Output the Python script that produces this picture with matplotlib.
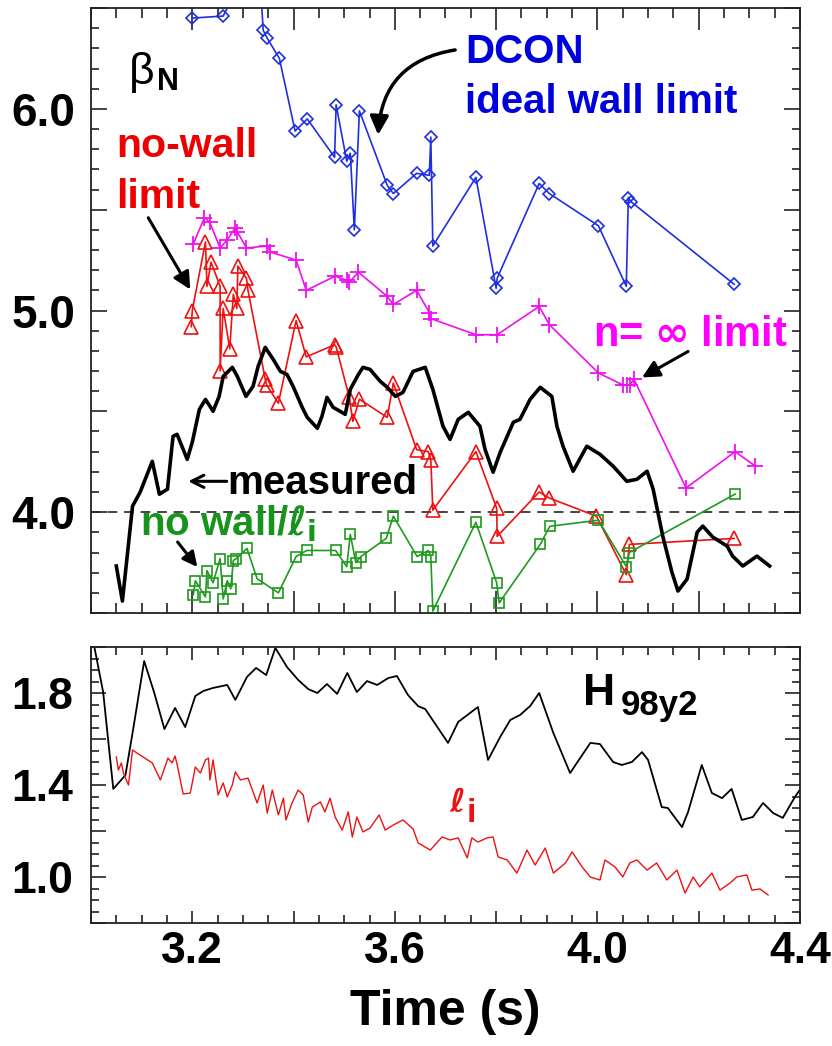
# Beta_N vs. time with stability limits, plus H98y2 and li (lower panel)

import numpy as np
import matplotlib
matplotlib.use('Agg')
import matplotlib.pyplot as plt
from matplotlib.ticker import MultipleLocator


plt.rcParams['font.family'] = ['Liberation Sans', 'DejaVu Sans']
plt.rcParams['font.weight'] = 'bold'
plt.rcParams['mathtext.fontset'] = 'dejavusans'


# Datos: beta_N medido

meas_t = [3.050, 3.062, 3.082, 3.097, 3.121, 3.135, 3.151, 3.162, 3.170, 3.190,
          3.200, 3.214, 3.226, 3.235, 3.241, 3.253, 3.261, 3.279, 3.289, 3.306,
          3.320, 3.330, 3.344, 3.360, 3.374, 3.387, 3.399, 3.417, 3.427, 3.447,
          3.456, 3.466, 3.478, 3.492, 3.502, 3.512, 3.528, 3.537, 3.551, 3.571,
          3.585, 3.601, 3.616, 3.636, 3.660, 3.675, 3.695, 3.709, 3.725, 3.745,
          3.768, 3.778, 3.794, 3.808, 3.834, 3.847, 3.867, 3.887, 3.910, 3.920,
          3.932, 3.952, 3.979, 4.005, 4.031, 4.058, 4.078, 4.098, 4.110, 4.129,
          4.147, 4.159, 4.177, 4.197, 4.208, 4.228, 4.256, 4.267, 4.287, 4.315,
          4.340]
meas_b = [3.733, 3.559, 4.030, 4.099, 4.252, 4.089, 4.114, 4.376, 4.386, 4.262,
          4.347, 4.510, 4.559, 4.525, 4.500, 4.574, 4.673, 4.718, 4.673, 4.574,
          4.624, 4.723, 4.817, 4.757, 4.698, 4.683, 4.624, 4.520, 4.470, 4.416,
          4.475, 4.569, 4.520, 4.500, 4.485, 4.609, 4.683, 4.718, 4.708, 4.649,
          4.619, 4.574, 4.594, 4.698, 4.718, 4.609, 4.426, 4.361, 4.460, 4.495,
          4.426, 4.312, 4.198, 4.297, 4.446, 4.460, 4.559, 4.619, 4.574, 4.426,
          4.327, 4.203, 4.327, 4.287, 4.228, 4.153, 4.163, 4.203, 4.114, 3.881,
          3.703, 3.609, 3.668, 3.901, 3.931, 3.876, 3.832, 3.782, 3.733, 3.782,
          3.733]

# DCON, pared ideal

dcon_t = [3.200, 3.261, 3.330, 3.340, 3.348, 3.372, 3.403, 3.427, 3.481, 3.484,
          3.505, 3.512, 3.520, 3.530, 3.585, 3.597, 3.643, 3.668, 3.671, 3.675,
          3.760, 3.800, 3.802, 3.885, 3.905, 4.002, 4.057, 4.061, 4.066, 4.270]
dcon_b = [6.45, 6.46, 6.80, 6.39, 6.35, 6.25, 5.89, 5.95, 5.76, 6.02,
          5.74, 5.78, 5.40, 5.99, 5.62, 5.58, 5.68, 5.67, 5.86, 5.32,
          5.66, 5.11, 5.16, 5.63, 5.58, 5.42, 5.12, 5.56, 5.54, 5.13]

# Limite n = infinito

ninf_t = [3.202, 3.224, 3.234, 3.255, 3.269, 3.285, 3.289, 3.307, 3.348, 3.354,
          3.405, 3.425, 3.482, 3.505, 3.510, 3.528, 3.585, 3.597, 3.643, 3.668,
          3.671, 3.760, 3.802, 3.885, 3.905, 4.002, 4.051, 4.058, 4.064, 4.072,
          4.175, 4.272, 4.311]
ninf_b = [5.33, 5.46, 5.44, 5.31, 5.35, 5.41, 5.39, 5.31, 5.32, 5.29,
          5.25, 5.10, 5.17, 5.15, 5.14, 5.19, 5.07, 5.03, 5.10, 4.99,
          4.96, 4.88, 4.88, 5.02, 4.93, 4.69, 4.63, 4.63, 4.63, 4.66,
          4.12, 4.30, 4.23]

# Limite sin pared

nowall_t = [3.198, 3.200, 3.226, 3.229, 3.237, 3.255, 3.255, 3.261, 3.274, 3.281,
            3.288, 3.290, 3.307, 3.310, 3.344, 3.347, 3.370, 3.405, 3.425, 3.481,
            3.484, 3.510, 3.517, 3.530, 3.585, 3.597, 3.643, 3.666, 3.671, 3.675,
            3.760, 3.801, 3.802, 3.885, 3.905, 3.998, 4.057, 4.063, 4.270]
nowall_b = [4.92, 5.00, 5.34, 5.12, 5.24, 5.12, 4.70, 5.01, 4.81, 5.08,
            5.01, 5.22, 5.16, 5.10, 4.66, 4.63, 4.54, 4.95, 4.77, 4.83,
            4.82, 4.57, 4.45, 4.56, 4.47, 4.64, 4.31, 4.30, 4.26, 4.01,
            4.30, 4.02, 3.88, 4.10, 4.07, 3.98, 3.69, 3.84, 3.87]

# Limite sin pared / li

nwli_t = [3.202, 3.206, 3.226, 3.229, 3.241, 3.255, 3.261, 3.269, 3.276, 3.281,
          3.287, 3.308, 3.328, 3.370, 3.405, 3.426, 3.483, 3.505, 3.512, 3.523,
          3.533, 3.583, 3.597, 3.644, 3.666, 3.671, 3.675, 3.760, 3.801, 3.806,
          3.887, 3.906, 4.002, 4.057, 4.063, 4.272]
nwli_b = [3.59, 3.66, 3.58, 3.71, 3.65, 3.77, 3.57, 3.66, 3.62, 3.76,
          3.77, 3.82, 3.67, 3.60, 3.78, 3.81, 3.81, 3.73, 3.89, 3.75,
          3.78, 3.87, 3.98, 3.78, 3.81, 3.78, 3.51, 3.95, 3.65, 3.55,
          3.84, 3.93, 3.96, 3.73, 3.80, 4.09]

# Panel inferior: H98y2

h98_t = [3.000, 3.007, 3.024, 3.044, 3.068, 3.083, 3.105, 3.125, 3.145, 3.166,
         3.186, 3.206, 3.222, 3.241, 3.269, 3.285, 3.308, 3.326, 3.346, 3.364,
         3.387, 3.409, 3.429, 3.447, 3.466, 3.486, 3.506, 3.525, 3.545, 3.565,
         3.587, 3.604, 3.626, 3.646, 3.660, 3.705, 3.725, 3.764, 3.784, 3.808,
         3.828, 3.847, 3.867, 3.885, 3.913, 3.946, 3.986, 4.005, 4.031, 4.048,
         4.068, 4.088, 4.100, 4.127, 4.139, 4.167, 4.179, 4.206, 4.226, 4.246,
         4.265, 4.285, 4.307, 4.327, 4.347, 4.366, 4.390, 4.400]
h98_v = [2.050, 1.996, 1.804, 1.383, 1.443, 1.639, 1.939, 1.800, 1.643, 1.735,
         1.652, 1.787, 1.809, 1.822, 1.835, 1.770, 1.870, 1.909, 1.878, 1.996,
         1.913, 1.857, 1.817, 1.800, 1.839, 1.796, 1.887, 1.804, 1.852, 1.835,
         1.865, 1.874, 1.791, 1.743, 1.730, 1.583, 1.674, 1.739, 1.509, 1.609,
         1.683, 1.704, 1.743, 1.800, 1.626, 1.452, 1.583, 1.578, 1.500, 1.487,
         1.500, 1.543, 1.509, 1.304, 1.300, 1.217, 1.283, 1.487, 1.365, 1.343,
         1.383, 1.248, 1.261, 1.322, 1.278, 1.257, 1.348, 1.380]

# Panel inferior: li

li_t = [3.050, 3.054, 3.060, 3.064, 3.074, 3.082, 3.097, 3.121, 3.137, 3.152,
        3.160, 3.166, 3.170, 3.182, 3.196, 3.206, 3.216, 3.226, 3.232, 3.235,
        3.241, 3.251, 3.261, 3.269, 3.279, 3.285, 3.295, 3.310, 3.328, 3.340,
        3.348, 3.358, 3.370, 3.380, 3.385, 3.397, 3.409, 3.419, 3.429, 3.437,
        3.453, 3.462, 3.472, 3.482, 3.496, 3.508, 3.516, 3.525, 3.537, 3.551,
        3.569, 3.581, 3.597, 3.616, 3.636, 3.646, 3.670, 3.693, 3.709, 3.725,
        3.743, 3.752, 3.764, 3.782, 3.794, 3.804, 3.822, 3.841, 3.861, 3.877,
        3.897, 3.913, 3.937, 3.950, 3.970, 3.986, 4.005, 4.015, 4.035, 4.050,
        4.064, 4.078, 4.098, 4.117, 4.137, 4.157, 4.173, 4.189, 4.202, 4.226,
        4.242, 4.262, 4.275, 4.295, 4.305, 4.321, 4.337]
li_v = [1.522, 1.465, 1.496, 1.452, 1.400, 1.552, 1.530, 1.496, 1.422, 1.517,
        1.496, 1.526, 1.490, 1.361, 1.365, 1.478, 1.452, 1.509, 1.517, 1.422,
        1.509, 1.357, 1.409, 1.348, 1.400, 1.457, 1.422, 1.430, 1.322, 1.400,
        1.278, 1.378, 1.270, 1.343, 1.248, 1.322, 1.378, 1.357, 1.239, 1.304,
        1.326, 1.283, 1.343, 1.261, 1.204, 1.283, 1.174, 1.261, 1.196, 1.213,
        1.270, 1.204, 1.226, 1.248, 1.209, 1.148, 1.117, 1.174, 1.161, 1.170,
        1.083, 1.170, 1.152, 1.170, 1.174, 1.087, 1.074, 1.017, 1.117, 1.052,
        1.126, 1.017, 1.061, 1.109, 1.043, 1.000, 0.987, 1.074, 1.043, 1.000,
        1.061, 1.074, 1.030, 1.061, 0.987, 1.030, 0.930, 1.000, 0.957, 1.017,
        0.943, 0.974, 1.000, 1.009, 0.943, 0.948, 0.922]

# Marcas del eje de tiempo

xticks = [3.0, 3.2, 3.4, 3.6, 3.8, 4.0, 4.2, 4.4]
xtick_labels = ['', '3.2', '', '3.6', '', '4.0', '', '4.4']
bticks = [3.5, 4.0, 4.5, 5.0, 5.5, 6.0, 6.5]
btick_labels = ['', '4.0', '', '5.0', '', '6.0', '']
hticks = [0.8, 1.0, 1.2, 1.4, 1.6, 1.8, 2.0]
htick_labels = ['', '1.0', '', '1.4', '', '1.8', '']


AZUL = '#1f2fe0'
ROJO = '#ee1111'
MAGENTA = '#ee11ee'
VERDE = '#1e9a1e'


def marco(ax, mayor_x, menor_x, mayor_y, menor_y):
    for s in ax.spines.values():
        s.set_linewidth(1.3)
        s.set_color('#222222')
    ax.tick_params(which='both', direction='in', top=True, right=True,
                   color='#222222', width=1.2)
    ax.tick_params(axis='x', which='major', length=mayor_x)
    ax.tick_params(axis='x', which='minor', length=menor_x)
    ax.tick_params(axis='y', which='major', length=mayor_y)
    ax.tick_params(axis='y', which='minor', length=menor_y)


fig = plt.figure(figsize=(8.32, 10.46), dpi=100)

# Panel superior: beta_N

ax1 = fig.add_axes([91 / 832, 1 - 613 / 1046, 709 / 832, 605 / 1046])
ax1.set_xlim(3.0, 4.4)
ax1.set_ylim(3.5, 6.5)

ax1.axhline(4.0, color='#444444', lw=1.4, dashes=(5, 3.5), zorder=1)

ax1.plot(dcon_t, dcon_b, color=AZUL, lw=1.2, marker='D', ms=6.5,
         mfc='none', mec=AZUL, mew=1.2)
ax1.plot(ninf_t, ninf_b, color=MAGENTA, lw=1.2, marker='+', ms=11, mew=1.3)
ax1.plot(nowall_t, nowall_b, color=ROJO, lw=1.2, marker='^', ms=10,
         mfc='none', mec=ROJO, mew=1.2)
ax1.plot(nwli_t, nwli_b, color=VERDE, lw=1.2, marker='s', ms=7,
         mfc='none', mec=VERDE, mew=1.2)
ax1.plot(meas_t, meas_b, color='black', lw=2.6, zorder=5)

ax1.set_xticks(xticks)
ax1.set_xticklabels([])
ax1.xaxis.set_minor_locator(MultipleLocator(0.05))
ax1.set_yticks(bticks)
ax1.set_yticklabels(btick_labels, fontsize=33)
ax1.yaxis.set_minor_locator(MultipleLocator(0.1))
marco(ax1, 16, 7, 11.5, 6)
ax1.tick_params(axis='y', pad=11)

# Etiquetas del panel superior

ax1.text(3.074, 6.124, 'β', fontsize=32, fontweight='normal', color='black')
ax1.text(3.131, 6.094, 'N', fontsize=22, fontweight='bold', color='black')

ax1.text(3.739, 6.228, 'DCON', fontsize=29, color='#0000dd')
ax1.text(3.739, 5.980, 'ideal wall limit', fontsize=29, color='#0000dd')
ax1.annotate('', xy=(3.567, 5.871), xytext=(3.719, 6.292),
             arrowprops=dict(arrowstyle='-|>', color='black', lw=2.5,
                             mutation_scale=28,
                             connectionstyle='arc3,rad=0.4',
                             shrinkA=0, shrinkB=0))

ax1.text(3.050, 5.762, 'no-wall', fontsize=29.5, color='#ee0000')
ax1.text(3.050, 5.510, 'limit', fontsize=29.5, color='#ee0000')
ax1.annotate('', xy=(3.196, 5.104), xytext=(3.113, 5.460),
             arrowprops=dict(arrowstyle='-|>', color='black', lw=2.2,
                             mutation_scale=26, shrinkA=0, shrinkB=0))

ax1.text(3.991, 4.822, r'n= $\infty$ limit', fontsize=30, color='#ff00ff')
ax1.annotate('', xy=(4.088, 4.668), xytext=(4.179, 4.797),
             arrowprops=dict(arrowstyle='-|>', color='black', lw=2.2,
                             mutation_scale=26, shrinkA=0, shrinkB=0))

ax1.text(3.270, 4.089, 'measured', fontsize=29, color='black')
ax1.annotate('', xy=(3.192, 4.153), xytext=(3.268, 4.153),
             arrowprops=dict(arrowstyle='->', color='black', lw=2.2,
                             mutation_scale=22, shrinkA=0, shrinkB=0))

ax1.text(3.097, 3.885, r'no wall/$\ell_\mathbf{i}$', fontsize=29,
         color='#17941b')
ax1.annotate('', xy=(3.210, 3.728), xytext=(3.171, 3.852),
             arrowprops=dict(arrowstyle='-|>', color='black', lw=2.2,
                             mutation_scale=22, shrinkA=0, shrinkB=0))

# Panel inferior: H98y2 y li

ax2 = fig.add_axes([91 / 832, 1 - 923 / 1046, 709 / 832, 276 / 1046])
ax2.set_xlim(3.0, 4.4)
ax2.set_ylim(0.8, 2.0)

ax2.plot(h98_t, h98_v, color='black', lw=1.3)
ax2.plot(li_t, li_v, color=ROJO, lw=1.0)

ax2.set_xticks(xticks)
ax2.set_xticklabels(xtick_labels, fontsize=32)
ax2.xaxis.set_minor_locator(MultipleLocator(0.05))
ax2.set_yticks(hticks)
ax2.set_yticklabels(htick_labels, fontsize=32)
ax2.yaxis.set_minor_locator(MultipleLocator(0.05))
marco(ax2, 9, 6, 11, 6)
ax2.tick_params(axis='y', pad=13)
ax2.tick_params(axis='x', pad=6)
ax2.set_xlabel('Time (s)', fontsize=36, fontweight='bold', labelpad=12)

ax2.text(3.972, 1.748, 'H', fontsize=32, color='black')
ax2.text(4.046, 1.704, '98y2', fontsize=25, color='black')
ax2.text(3.706, 1.283, r'$\ell$', fontsize=24, color=ROJO)
ax2.text(3.742, 1.240, 'i', fontsize=24, color=ROJO)

fig.savefig('out.png', dpi=100)
